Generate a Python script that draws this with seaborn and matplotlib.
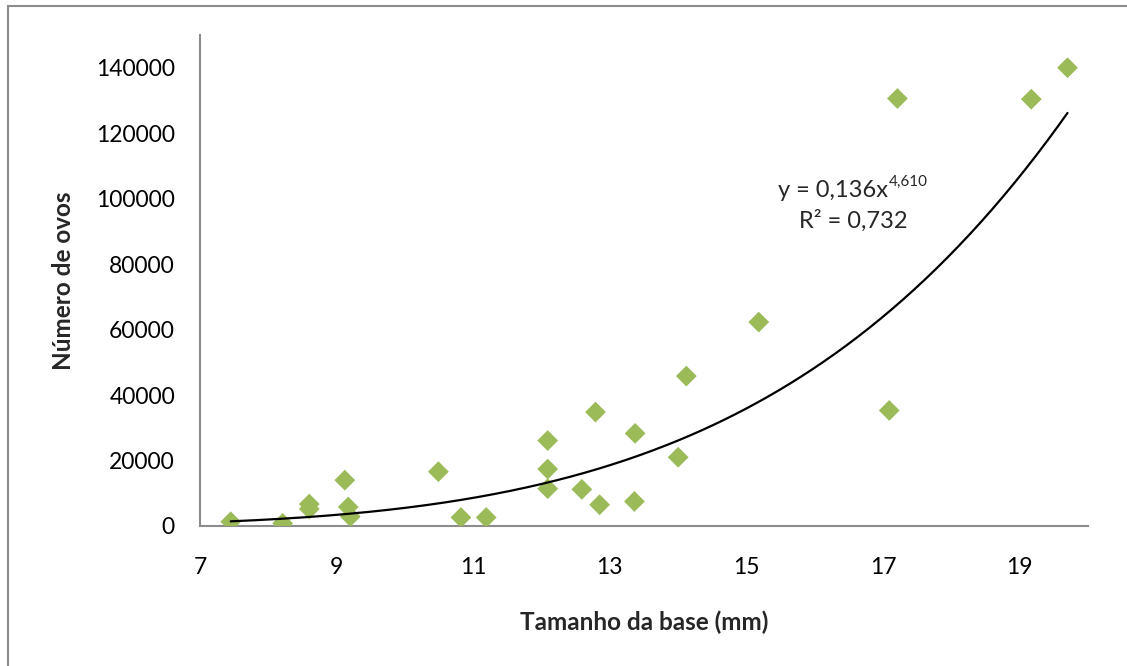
import numpy as np
import pandas as pd
import matplotlib
matplotlib.use("Agg")
import matplotlib.pyplot as plt
from matplotlib.patches import Rectangle
import seaborn as sns

# Data
base_mm = [7.45, 8.21, 8.60, 8.60, 9.12, 9.17, 9.20, 10.49, 10.82, 11.19,
           12.09, 12.09, 12.09, 12.59, 12.79, 12.85, 13.37, 13.36, 14.00,
           14.12, 15.18, 17.09, 17.21, 19.17, 19.70]
ovos = [1300, 800, 6700, 5200, 14000, 5800, 2900, 16600, 2600, 2600,
        26100, 17400, 11400, 11200, 34800, 6500, 28300, 7500, 21000,
        45800, 62300, 35300, 130600, 130400, 140000]
coef_a = 0.136
coef_b = 4.610
x_ticks = [7, 9, 11, 13, 15, 17, 19]
y_ticks = [0, 20000, 40000, 60000, 80000, 100000, 120000, 140000]

df = pd.DataFrame({"base": base_mm, "ovos": ovos})

sns.set_style("white")
plt.rcParams["font.family"] = ["Lato", "DejaVu Sans"]

W, H = 1127, 666
fig = plt.figure(figsize=(W / 100, H / 100), dpi=100)
ax = fig.add_axes([200 / W, 1 - 526 / H, (1088 - 200) / W, (526 - 35) / H])

# chart frame
fig.patches.append(Rectangle((8 / W, -0.01), 1.02 - 8 / W, 1 - 6 / H + 0.01,
                             transform=fig.transFigure, fill=False,
                             edgecolor="#8c8c8c", linewidth=1.5, zorder=0))

sns.scatterplot(data=df, x="base", y="ovos", marker="D", s=112,
                color="#9BBB59", edgecolor="none", linewidth=0, ax=ax, zorder=3)

xs = np.linspace(min(base_mm), max(base_mm), 300)
ax.plot(xs, coef_a * xs ** coef_b, color="black", linewidth=1.6, zorder=4)

ax.set_xlim(7, 20)
ax.set_ylim(0, 150000)
ax.set_xticks(x_ticks)
ax.set_yticks(y_ticks)
ax.set_xticklabels([str(t) for t in x_ticks])
ax.set_yticklabels([str(t) for t in y_ticks])

for s in ["top", "right"]:
    ax.spines[s].set_visible(False)
for s in ["left", "bottom"]:
    ax.spines[s].set_color("#8c8c8c")
    ax.spines[s].set_linewidth(1.5)

ax.tick_params(axis="both", which="major", direction="out", length=6,
               width=1.3, color="#8c8c8c", labelsize=16.5, labelcolor="black")
ax.tick_params(axis="x", pad=16)
ax.tick_params(axis="y", pad=12)

ax.set_xlabel("Tamanho da base (mm)", fontsize=17.5, fontweight="bold", labelpad=24)
ax.set_ylabel("Número de ovos", fontsize=17.5, fontweight="bold", labelpad=15)

# equation annotation
fig.text(888 / W, 1 - 197 / H, "y = 0,136x", ha="right", va="baseline", fontsize=17)
fig.text(889 / W, 1 - 186 / H, "4,610", ha="left", va="baseline", fontsize=11)
fig.text(853 / W, 1 - 228 / H, "R² = 0,732", ha="center", va="baseline", fontsize=17)

fig.savefig("out.png", dpi=100)
